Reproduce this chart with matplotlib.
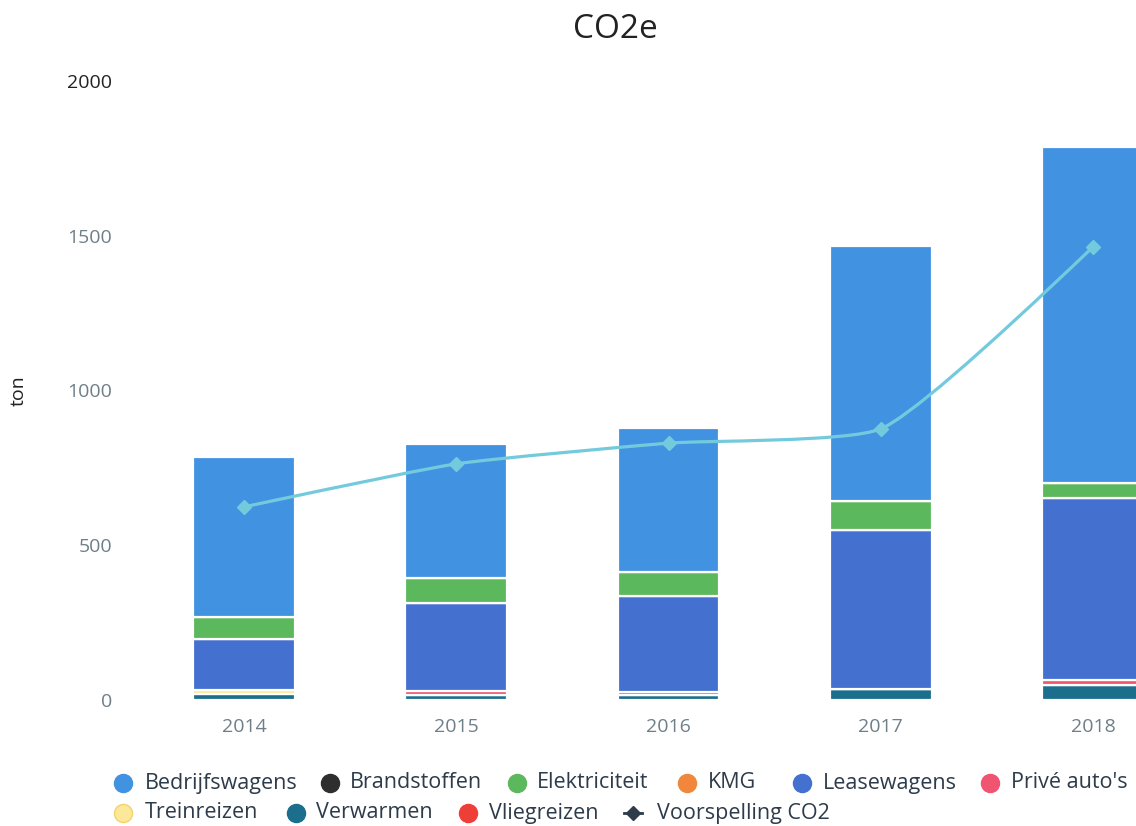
import numpy as np
import matplotlib.pyplot as plt
from matplotlib.lines import Line2D
from matplotlib.path import Path
from matplotlib.patches import PathPatch

plt.rcParams['font.family'] = ['Open Sans', 'DejaVu Sans']

# ---- data (ton CO2e) ----
years = ['2014', '2015', '2016', '2017', '2018']
bedrijfswagens = [517, 433, 465, 823, 1086]
brandstoffen = [0, 0, 0, 0, 0]
elektriciteit = [71, 82, 78, 96, 48]
kmg = [0, 0, 0, 0, 0]
leasewagens = [165, 284, 310, 512, 587]
prive_autos = [0, 12, 10, 0, 18]
treinreizen = [14, 0, 0, 0, 0]
verwarmen = [18, 16, 16, 36, 48]
vliegreizen = [0, 0, 0, 0, 0]
voorspelling = [624, 763, 830, 876, 1464]

series_names = ['Bedrijfswagens', 'Brandstoffen', 'Elektriciteit', 'KMG', 'Leasewagens',
                "Privé auto's", 'Treinreizen', 'Verwarmen', 'Vliegreizen']
series_values = [bedrijfswagens, brandstoffen, elektriciteit, kmg, leasewagens,
                 prive_autos, treinreizen, verwarmen, vliegreizen]
series_colors = ['#4193e2', '#2e2e2e', '#5cb85c', '#f0873a', '#4470cf',
                 '#ef5470', '#fde89a', '#1b6e8c', '#ee3e38']
line_color = '#74cadd'
text_dark = '#2d3b4a'
tick_grey = '#6e7f88'

W, H = 1136, 826
fig = plt.figure(figsize=(W / 100, H / 100), dpi=100)
ax = fig.add_axes([130 / W, (H - 700) / H, 1 - 130 / W, (700 - 81) / H])

x = np.arange(len(years))
bottom = np.zeros(len(years))
# stack in reverse legend order: Vliegreizen at the bottom, Bedrijfswagens on top
for name, vals, col in reversed(list(zip(series_names, series_values, series_colors))):
    v = np.array(vals, dtype=float)
    ax.bar(x, v, width=0.48, bottom=bottom, color=col, edgecolor='white',
           linewidth=1.6, zorder=2)
    bottom += v

ax.set_xlim((130 - 244) / 212.25, (W - 244) / 212.25)
ax.set_ylim(0, 2000)


def tangent(prev, cur, nxt, smooth):
    """Bezier control points around `cur` (centripetal spline, pixel space)."""
    d1 = prev - cur
    d2 = nxt - cur
    d1a = np.hypot(*d1) ** 0.5
    d2a = np.hypot(*d2) ** 0.5
    num = (d2a * d2a * d1 - d1a * d1a * d2) * smooth
    den1 = 3 * d2a * (d1a + d2a)
    den2 = 3 * d1a * (d1a + d2a)
    return cur + num / den1, cur - num / den2


# smooth curve through the forecast points
fig.canvas.draw()
pts = ax.transData.transform(np.column_stack([x, voorspelling]))
tans = [tangent(pts[i - 1], pts[i], pts[i + 1], 0.5) for i in range(1, len(pts) - 1)]
verts = [pts[0], tans[0][0], pts[1]]
codes = [Path.MOVETO, Path.CURVE3, Path.CURVE3]
for i in range(2, len(pts) - 1):
    verts += [tans[i - 2][1], tans[i - 1][0], pts[i]]
    codes += [Path.CURVE4] * 3
verts += [tans[-1][1], pts[-1]]
codes += [Path.CURVE3] * 2
verts = ax.transData.inverted().transform(np.array(verts))
ax.add_patch(PathPatch(Path(verts, codes), fill=False, edgecolor=line_color, lw=2.3,
                       zorder=3, transform=ax.transData))
ax.plot(x, voorspelling, ls='none', marker='D', ms=7, color=line_color, zorder=4)

for s in ax.spines.values():
    s.set_visible(False)
ax.set_xticks(x)
ax.set_xticklabels(years)
ax.set_yticks([0, 500, 1000, 1500, 2000])
ax.tick_params(axis='both', length=0, colors=tick_grey, labelsize=14)
ax.tick_params(axis='x', pad=13)
ax.tick_params(axis='y', pad=13)
ax.get_yticklabels()[-1].set_color('#222222')
ax.set_ylabel('ton', fontsize=14, color='#222222')
ax.yaxis.set_label_coords(-(130 - 28) / (W - 130), 0.5)

fig.text(615 / W, 1 - 30 / H, 'CO2e', ha='center', va='center', fontsize=24, color='#222222')

# legend, laid out in two rows
legend_rows = [
    [(123, 145, 0), (330, 350, 1), (517, 537, 2), (687, 708, 3), (802, 823, 4), (990, 1011, 5)],
    [(123, 145, 6), (296, 316, 7), (468, 489, 8)],
]
row_y = [783, 813]
for r, row in enumerate(legend_rows):
    yy = 1 - row_y[r] / H
    for mx, tx, k in row:
        fig.add_artist(Line2D([mx / W], [yy], marker='o', ms=13, color=series_colors[k],
                              mec=series_colors[k] if k != 6 else '#f3d36a', mew=1,
                              transform=fig.transFigure))
        fig.text(tx / W, yy, series_names[k], ha='left', va='center', fontsize=15.5,
                 color=text_dark)
yy = 1 - row_y[1] / H
fig.add_artist(Line2D([624 / W, 642 / W], [yy, yy], color=text_dark, lw=2,
                      transform=fig.transFigure))
fig.add_artist(Line2D([633 / W], [yy], marker='D', ms=7, color=text_dark,
                      transform=fig.transFigure))
fig.text(657 / W, yy, 'Voorspelling CO2', ha='left', va='center', fontsize=15.5, color=text_dark)

fig.savefig('out.png', dpi=100)
